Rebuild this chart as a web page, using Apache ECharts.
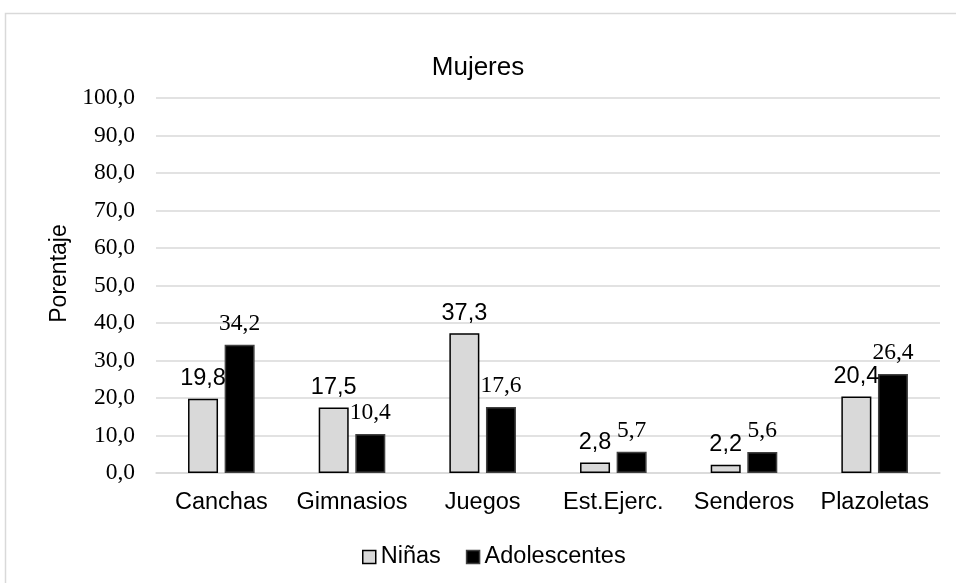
<!DOCTYPE html>
<html>
<head>
<meta charset="utf-8">
<script src="https://cdn.jsdelivr.net/npm/echarts@6/dist/echarts.min.js"></script>
<style>
  html, body { margin: 0; padding: 0; background: #fff; }
  #chart { width: 956px; height: 583px; }
</style>
</head>
<body>
<div id="chart"></div>
<script>
// Preferred facilities by age group (women), in percent
const categories = ['Canchas', 'Gimnasios', 'Juegos', 'Est.Ejerc.', 'Senderos', 'Plazoletas'];
const ninas = [19.8, 17.5, 37.3, 2.8, 2.2, 20.4];
const adolescentes = [34.2, 10.4, 17.6, 5.7, 5.6, 26.4];
const seriesNames = ['Niñas', 'Adolescentes'];
const chartTitle = 'Mujeres';
const yAxisName = 'Porentaje';

const comma = v => v.toFixed(1).replace('.', ',');
const SANS = 'Liberation Sans, Arial, sans-serif';
const SERIF = 'Liberation Serif, Times New Roman, serif';

const chart = echarts.init(document.getElementById('chart'), null, { renderer: 'canvas' });
chart.setOption({
  backgroundColor: '#fff',
  animation: false,
  graphic: [{
    type: 'rect',
    shape: { x: 5.5, y: 13.5, width: 1000, height: 1000 },
    style: { fill: 'none', stroke: '#d9d9d9', lineWidth: 1.5 },
    silent: true,
    z: -10
  }],
  title: {
    text: chartTitle,
    left: 'center',
    top: 50,
    textStyle: { fontFamily: SANS, fontSize: 26, fontWeight: 'normal', color: '#000' }
  },
  legend: {
    left: 362,
    top: 545,
    padding: 0,
    itemWidth: 13,
    itemHeight: 13,
    itemGap: 25,
    textStyle: { fontFamily: SANS, fontSize: 23.5, color: '#000' },
    data: [
      { name: seriesNames[0], icon: 'rect', itemStyle: { color: '#d9d9d9', borderColor: '#000', borderWidth: 1.5 } },
      { name: seriesNames[1], icon: 'rect', itemStyle: { color: '#000', borderColor: '#404040', borderWidth: 1.5 } }
    ]
  },
  grid: { left: 156, right: 16, top: 98, bottom: 110 },
  xAxis: {
    type: 'category',
    data: categories,
    axisLine: { lineStyle: { color: '#d9d9d9', width: 1.5 } },
    axisTick: { show: false },
    axisLabel: { interval: 0, fontFamily: SANS, fontSize: 23.5, color: '#000', margin: 18 }
  },
  yAxis: {
    type: 'value',
    min: 0,
    max: 100,
    interval: 10,
    name: yAxisName,
    nameLocation: 'middle',
    nameRotate: 90,
    nameGap: 82,
    nameTextStyle: { fontFamily: SANS, fontSize: 23, color: '#000', padding: [0, 0, 0, 24] },
    axisLine: { show: false },
    axisTick: { show: false },
    splitLine: { lineStyle: { color: '#d9d9d9', width: 1.5 } },
    axisLabel: { fontFamily: SERIF, fontSize: 23.5, color: '#000', margin: 21, formatter: comma }
  },
  series: [
    {
      name: seriesNames[0],
      type: 'bar',
      data: ninas,
      barWidth: 30,
      barGap: '22%',
      itemStyle: { color: '#d9d9d9', borderColor: '#000', borderWidth: 1.5 },
      label: {
        show: true, position: 'top', distance: 8,
        fontFamily: SANS, fontSize: 23.5, color: '#000',
        formatter: p => comma(p.value)
      }
    },
    {
      name: seriesNames[1],
      type: 'bar',
      data: adolescentes,
      barWidth: 30,
      barGap: '22%',
      itemStyle: { color: '#000', borderColor: '#404040', borderWidth: 1.5 },
      label: {
        show: true, position: 'top', distance: 9,
        fontFamily: SERIF, fontSize: 23.5, color: '#000',
        formatter: p => comma(p.value)
      }
    }
  ]
});
</script>
</body>
</html>
